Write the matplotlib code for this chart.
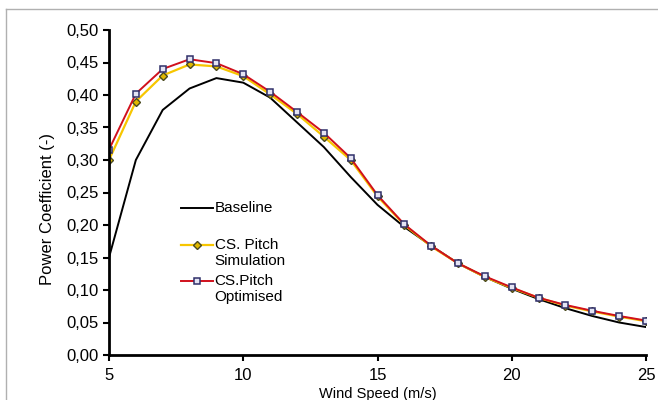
import numpy as np
import matplotlib.pyplot as plt
from matplotlib.ticker import FuncFormatter
from matplotlib.legend_handler import HandlerLine2D

plt.rcParams['font.family'] = ['Liberation Sans', 'DejaVu Sans']

wind = [5, 6, 7, 8, 9, 10, 11, 12, 13, 14, 15, 16, 17, 18, 19, 20, 21, 22, 23, 24, 25]
baseline = [0.150, 0.300, 0.377, 0.410, 0.426, 0.419, 0.396, 0.358, 0.320, 0.274, 0.231,
            0.197, 0.168, 0.141, 0.120, 0.102, 0.086, 0.072, 0.060, 0.050, 0.043]
pitch_sim = [0.300, 0.390, 0.430, 0.447, 0.444, 0.429, 0.401, 0.371, 0.336, 0.300, 0.244,
             0.200, 0.167, 0.141, 0.120, 0.103, 0.088, 0.076, 0.067, 0.059, 0.052]
pitch_opt = [0.316, 0.402, 0.440, 0.455, 0.449, 0.432, 0.405, 0.374, 0.342, 0.303, 0.246,
             0.201, 0.168, 0.141, 0.121, 0.104, 0.088, 0.077, 0.068, 0.060, 0.053]


class FirstLineHandler(HandlerLine2D):
    # two-line entries: put the symbol next to the first line, like Excel does
    def create_artists(self, legend, orig_handle, xdescent, ydescent, width, height, fontsize, trans):
        return super().create_artists(legend, orig_handle, xdescent, ydescent - 1.1 * fontsize,
                                      width, height, fontsize, trans)


fig = plt.figure(figsize=(6.58, 4.0), dpi=100)
ax = fig.add_axes([109 / 658, 45 / 400, 537 / 658, 325 / 400])

l_base, = ax.plot(wind, baseline, color='black', lw=1.4, label='Baseline\n')
l_sim, = ax.plot(wind, pitch_sim, color='#F7C600', lw=1.6, marker='D', ms=3.8,
                 mfc='#E0B800', mec='#4a4a20', mew=1.0, label='CS. Pitch\nSimulation')
l_opt, = ax.plot(wind, pitch_opt, color='#D0101C', lw=1.4, marker='s', ms=4.2,
                 mfc='#E4E4F4', mec='#30306A', mew=1.1, label='CS.Pitch\nOptimised')

ax.set_xlim(5, 25)
ax.set_ylim(0, 0.5)
ax.set_xticks([5, 10, 15, 20, 25])
ax.set_yticks(np.arange(0, 0.501, 0.05))
ax.yaxis.set_major_formatter(FuncFormatter(lambda v, p: f'{v:.2f}'.replace('.', ',')))
for s in ['top', 'right']:
    ax.spines[s].set_visible(False)
for s in ['left', 'bottom']:
    ax.spines[s].set_linewidth(2)
ax.tick_params(direction='out', length=4, width=1.5, labelsize=12, colors='black')
ax.tick_params(axis='x', pad=5)
ax.set_xlabel('Wind Speed (m/s)', fontsize=10.5, labelpad=3)
ax.set_ylabel('Power Coefficient (-)', fontsize=12)
ax.yaxis.set_label_coords(-0.1, 0.449)

hm = FirstLineHandler()
ax.legend(loc='upper left', bbox_to_anchor=(0.12, 0.496), frameon=False, fontsize=11,
          handlelength=2.1, handletextpad=0.1, labelspacing=0.4, borderpad=0,
          handler_map={l_base: hm, l_sim: hm, l_opt: hm})

# grey frame around the chart
fig.add_artist(plt.Line2D([6 / 658, 1], [391 / 400, 391 / 400], color='#b0b0b0', lw=1))
fig.add_artist(plt.Line2D([6 / 658, 6 / 658], [0, 391 / 400], color='#b0b0b0', lw=1))

fig.savefig('out.png', dpi=100)
